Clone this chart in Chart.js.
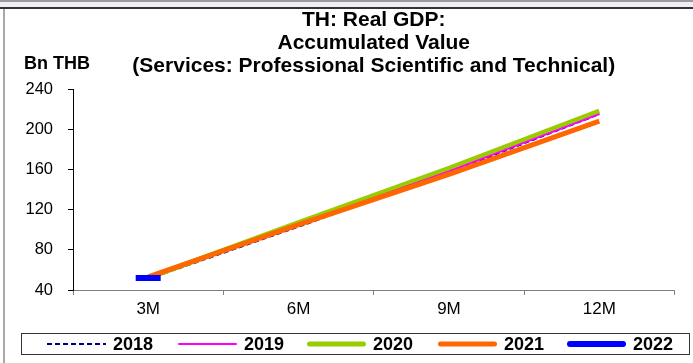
<!DOCTYPE html>
<html>
<head>
<meta charset="utf-8">
<script src="https://cdn.jsdelivr.net/npm/chart.js@4.4.0/dist/chart.umd.min.js"></script>
<style>
  html, body { margin: 0; padding: 0; background: #fff; }
  #wrap { width: 693px; height: 363px; position: relative; }
</style>
</head>
<body>
<div id="wrap"><canvas id="gdp-chart" width="693" height="363"></canvas></div>
<script>
// Chart data
const periods = ['3M', '6M', '9M', '12M'];
const years = ['2018', '2019', '2020', '2021', '2022'];
const values2018 = [51, 103, 157, 215];
const values2019 = [52, 105, 158, 215];
const values2020 = [52, 107, 161, 218];
const values2021 = [53, 105, 155, 208];
const values2022 = [52, null, null, null];
const yTicks = [40, 80, 120, 160, 200, 240];

const FONT = "'Liberation Sans', Arial, sans-serif";

// Series styles
const seriesStyle = {
    '2018': { color: '#000080', width: 2, dash: [5, 3], order: 4 },
    '2019': { color: '#FF00FF', width: 2, dash: [], order: 2 },
    '2020': { color: '#99CC00', width: 5, dash: [], order: 3 },
    '2021': { color: '#FF6600', width: 5, dash: [], order: 1 },
    '2022': { color: '#0000FF', width: 6, dash: [], order: 0 }
};
const seriesValues = [values2018, values2019, values2020, values2021, values2022];

const datasets = years.map((year, i) => {
    const s = seriesStyle[year];
    const isSingle = year === '2022';
    return {
        label: year,
        data: seriesValues[i],
        borderColor: s.color,
        backgroundColor: s.color,
        borderWidth: s.width,
        borderDash: s.dash,
        order: s.order,
        tension: 0,
        fill: false,
        spanGaps: false,
        pointRadius: isSingle ? 12.5 : 0,
        pointStyle: isSingle ? 'line' : 'circle',
        pointBorderWidth: isSingle ? 6 : 0,
        pointBorderColor: s.color
    };
});

// Frame, axis caption and boxed legend
const decorPlugin = {
    id: 'decor',
    beforeDraw(chart) {
        const ctx = chart.ctx;
        ctx.save();
        ctx.fillStyle = '#fff';
        ctx.fillRect(0, 0, chart.width, chart.height);
        ctx.fillStyle = '#eeeef6';
        ctx.fillRect(0, 2, chart.width, 5);
        ctx.fillStyle = '#9a9a9a';
        ctx.fillRect(0, 0, chart.width, 2);
        ctx.fillStyle = '#333';
        ctx.fillRect(0, 7, chart.width, 2);
        ctx.fillStyle = '#a8a8a8';
        ctx.fillRect(3, 9, 2, chart.height - 9);
        ctx.restore();
    },
    afterDraw(chart) {
        const ctx = chart.ctx;
        ctx.save();
        ctx.fillStyle = '#000';
        ctx.font = 'bold 18px ' + FONT;
        ctx.textAlign = 'left';
        ctx.textBaseline = 'middle';
        ctx.fillText('Bn THB', 24, 64);

        // legend box
        ctx.strokeStyle = '#333';
        ctx.lineWidth = 1;
        ctx.strokeRect(21.5, 333.5, 668, 21);

        const starts = [47, 178, 307, 438, 567];
        const y = 344;
        chart.data.datasets.forEach((ds, i) => {
            const x0 = starts[i];
            const round = !(ds.borderDash && ds.borderDash.length);
            ctx.beginPath();
            ctx.strokeStyle = ds.borderColor;
            ctx.lineWidth = ds.borderWidth;
            ctx.setLineDash(ds.borderDash || []);
            ctx.lineCap = round ? 'round' : 'butt';
            ctx.moveTo(x0 + (round ? ds.borderWidth / 2 : 0), y);
            ctx.lineTo(x0 + 59 - (round ? ds.borderWidth / 2 : 0), y);
            ctx.stroke();
            ctx.setLineDash([]);
            ctx.fillStyle = '#000';
            ctx.font = 'bold 18px ' + FONT;
            ctx.fillText(ds.label, x0 + 66, y + 1);
        });
        ctx.restore();
    }
};

new Chart(document.getElementById('gdp-chart'), {
    type: 'line',
    data: { labels: periods, datasets: datasets },
    plugins: [decorPlugin],
    options: {
        responsive: false,
        animation: false,
        devicePixelRatio: 1,
        layout: { padding: { top: 8, right: 8, bottom: 43, left: 0 } },
        plugins: {
            legend: { display: false },
            tooltip: { enabled: false },
            title: {
                display: true,
                fullSize: false,
                text: ['TH: Real GDP:', 'Accumulated Value', '(Services: Professional Scientific and Technical)'],
                color: '#000',
                font: { family: FONT, size: 21, weight: 'bold', lineHeight: 1.1 },
                padding: { top: 0.5, bottom: 11.2 }
            }
        },
        scales: {
            x: {
                offset: true,
                afterFit: (scale) => { scale.height = 30; },
                grid: {
                    offset: true,
                    drawOnChartArea: false,
                    drawTicks: true,
                    tickLength: 5,
                    color: '#808080'
                },
                border: { display: true, color: '#808080', width: 1 },
                ticks: {
                    color: '#000',
                    padding: 4,
                    maxRotation: 0,
                    font: { family: FONT, size: 17 }
                }
            },
            y: {
                min: 40,
                max: 240,
                afterFit: (scale) => { scale.width = 73; },
                afterBuildTicks: (scale) => { scale.ticks = yTicks.map(v => ({ value: v })); },
                grid: {
                    drawOnChartArea: false,
                    drawTicks: true,
                    tickLength: 5,
                    color: '#000'
                },
                border: { display: true, color: '#000', width: 1 },
                ticks: {
                    color: '#000',
                    padding: 15,
                    font: { family: FONT, size: 16.5 }
                }
            }
        }
    }
});
</script>
</body>
</html>
